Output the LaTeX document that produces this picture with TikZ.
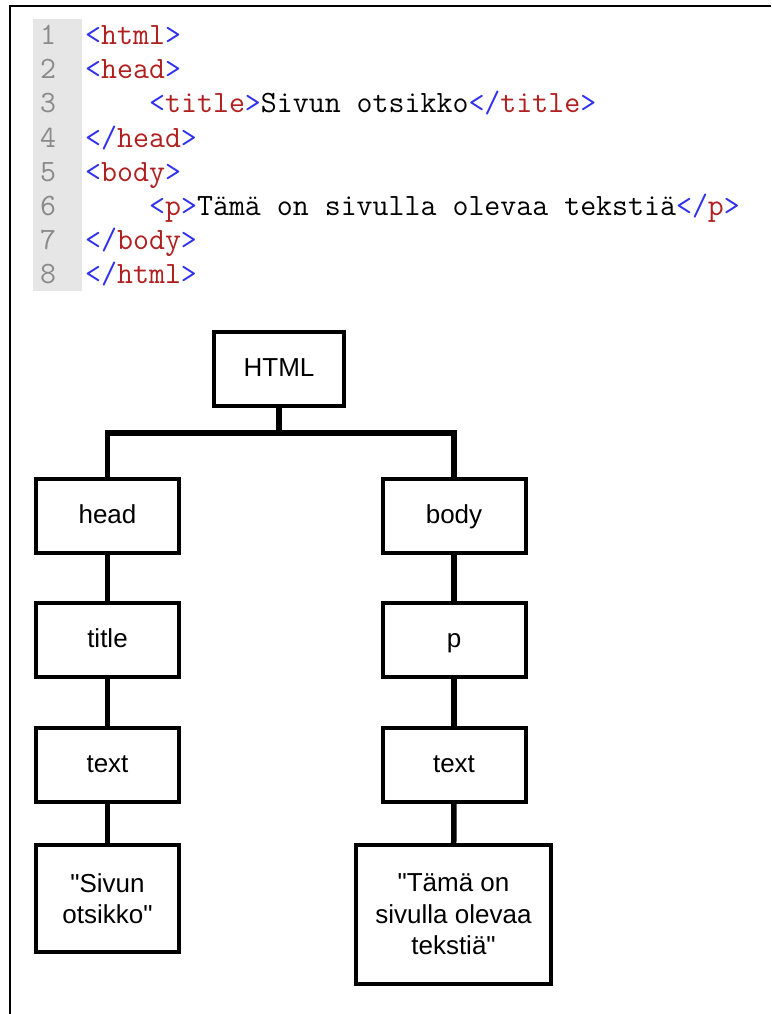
\documentclass[tikz,border=0pt]{standalone}
\usepackage{fontspec}
\newfontfamily\codefont{Latin Modern Mono}
\newfontfamily\treefont{Liberation Sans}
\definecolor{tagred}{HTML}{B02020}
\definecolor{tagblue}{HTML}{3030F0}
\definecolor{numgray}{HTML}{8A8A8A}
\definecolor{colgray}{HTML}{E6E6E6}
\newcommand{\opentag}[1]{\textcolor{tagblue}{<}\textcolor{tagred}{#1}\textcolor{tagblue}{>}}
\newcommand{\closetag}[1]{\textcolor{tagblue}{</}\textcolor{tagred}{#1}\textcolor{tagblue}{>}}

\begin{document}
\begin{tikzpicture}[x=1pt,y=-1pt,
        codeline/.style = {anchor=base west, inner sep=0pt,
            font=\codefont\fontsize{31}{34}\selectfont},
        linenum/.style = {codeline, text=numgray},
        every node/.style = {inner sep=0pt},
        elem/.style = {shape=rectangle, draw, line width=4pt, align=center,
            minimum width=143pt, minimum height=74pt,
            font=\treefont\fontsize{26}{31.5}\selectfont},
        elemword/.style = {elem, text height=18pt, text depth=3pt},
        branch/.style = {line width=5.5pt}]
    \useasboundingbox (0,0) rectangle (771,1014);
    \draw[line width=2pt] (10,1014) -- (10,6) -- (771,6);
    \fill[colgray] (33,19) rectangle (82,291);
    \foreach \n in {1,...,8}
        \node[linenum] (num\n) at (40,{45+34*(\n-1)}) {\n};
    \node[codeline] (c1) at (85,45) {\opentag{html}};
    \node[codeline] (c2) at (85,79) {\opentag{head}};
    \node[codeline] (c3) at (149,113) {\opentag{title}Sivun otsikko\closetag{title}};
    \node[codeline] (c4) at (85,147) {\closetag{head}};
    \node[codeline] (c5) at (85,181) {\opentag{body}};
    \node[codeline] (c6) at (149,215) {\opentag{p}Tämä on sivulla olevaa tekstiä\closetag{p}};
    \node[codeline] (c7) at (85,249) {\closetag{body}};
    \node[codeline] (c8) at (85,283) {\closetag{html}};

    \node[elemword, minimum width=130pt] (html) at (279,369) {HTML};
    \node[elemword] (head) at (107.5,516) {head};
    \node[elemword] (body) at (454,516) {body};
    \node[elemword] (title) at (107.5,640) {title};
    \node[elemword] (p) at (454,640) {p};
    \node[elemword] (text1) at (107.5,764.5) {text};
    \node[elemword] (text2) at (454,764.5) {text};
    \node[elem, minimum height=107pt] (str1) at (107.5,898.5) {"Sivun\\otsikko"};
    \node[elem, minimum width=195pt, minimum height=139pt] (str2) at (453.5,914.5)
        {"Tämä on\\sivulla olevaa\\tekstiä"};

    \coordinate (split) at (279,433);
    \draw[branch] (html) -- (split);
    \draw[branch] (head.north) |- (split) -| (body.north);
    \draw[branch] (head) -- (title);
    \draw[branch] (title) -- (text1);
    \draw[branch] (text1) -- (str1);
    \draw[branch] (body) -- (p);
    \draw[branch] (p) -- (text2);
    \draw[branch] (text2) -- (str2);
\end{tikzpicture}
\end{document}
